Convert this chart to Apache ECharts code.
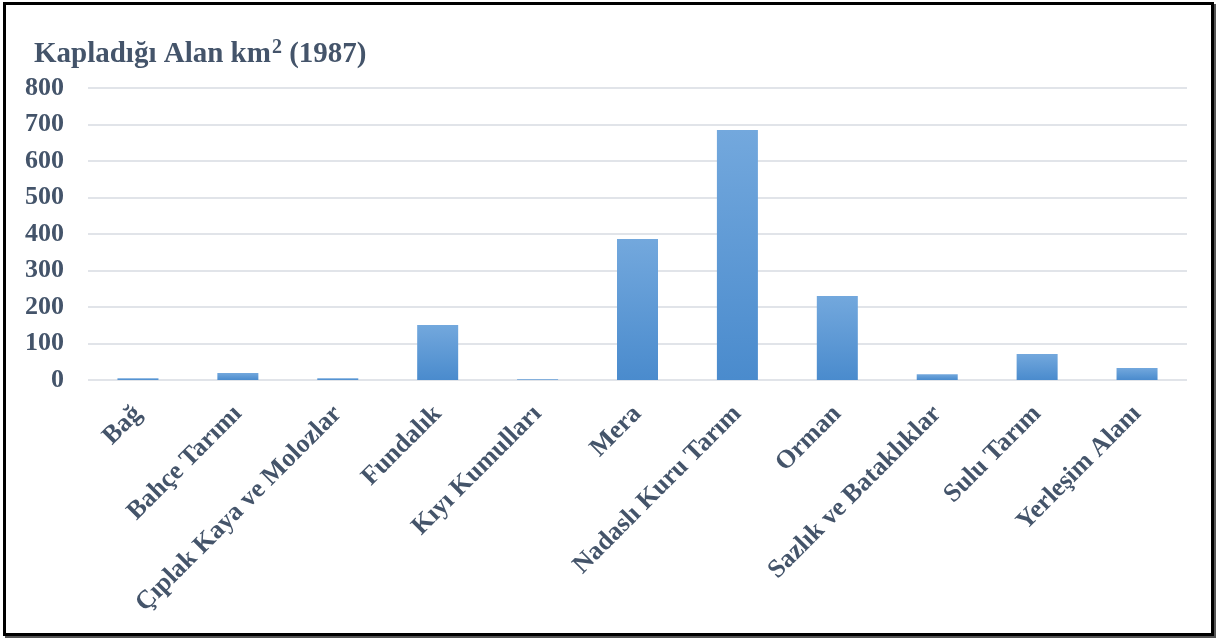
<!DOCTYPE html>
<html>
<head>
<meta charset="utf-8">
<script src="https://cdn.jsdelivr.net/npm/echarts@6/dist/echarts.min.js"></script>
<style>
html,body{margin:0;padding:0;background:#fff;}
#wrap{position:relative;width:1217px;height:640px;overflow:hidden;}
#chart{position:absolute;left:0;top:0;width:1217px;height:640px;}
#frame{position:absolute;left:3px;top:2px;width:1205px;height:628px;border:3px solid #000;box-shadow:2px 2px 0 #555;pointer-events:none;}
</style>
</head>
<body>
<div id="wrap"><div id="chart"></div><div id="frame"></div></div>
<script>
const titleMain = 'Kapladığı Alan km';
const titleSup = '2';
const titleTail = ' (1987)';
const categories = ['Bağ','Bahçe Tarımı','Çıplak Kaya ve Molozlar','Fundalık','Kıyı Kumulları','Mera','Nadaslı Kuru Tarım','Orman','Sazlık ve Bataklıklar','Sulu Tarım','Yerleşim Alanı'];
const values = [5, 19, 5, 151, 2, 386, 685, 230, 16, 71, 33];
const yTicks = [0, 100, 200, 300, 400, 500, 600, 700, 800];

const textColor = '#44546a';
const font = '"Liberation Serif","Times New Roman",serif';
const chart = echarts.init(document.getElementById('chart'), null, {renderer:'canvas'});
chart.setOption({
  animation:false,
  backgroundColor:'#fff',
  title:{text:'{a|'+titleMain+'}{s|'+titleSup+'}{a|'+titleTail+'}',left:29,top:33,
    textStyle:{rich:{
      a:{fontFamily:font,fontWeight:'bold',fontSize:29,color:textColor,lineHeight:33},
      s:{fontFamily:font,fontWeight:'bold',fontSize:20,color:textColor,lineHeight:33,verticalAlign:'top',padding:[0,0,8,1]}
    }}},
  grid:{left:88,right:30,top:88,bottom:260,containLabel:false},
  xAxis:{type:'category',data:categories,
    axisLine:{show:false},axisTick:{show:false},
    axisLabel:{interval:0,rotate:45,margin:30,fontFamily:font,fontWeight:'bold',fontSize:26,color:textColor}},
  yAxis:{type:'value',min:yTicks[0],max:yTicks[yTicks.length-1],interval:100,
    axisLine:{show:false},axisTick:{show:false},
    axisLabel:{margin:24,fontFamily:font,fontWeight:'bold',fontSize:26,color:textColor},
    splitLine:{lineStyle:{color:'#e1e4e9',width:2}}},
  series:[{type:'bar',data:values,barWidth:41,
    itemStyle:{color:new echarts.graphic.LinearGradient(0,0,0,1,[{offset:0,color:'#73a8dd'},{offset:1,color:'#4a8bcd'}])}}]
});
</script>
</body>
</html>
